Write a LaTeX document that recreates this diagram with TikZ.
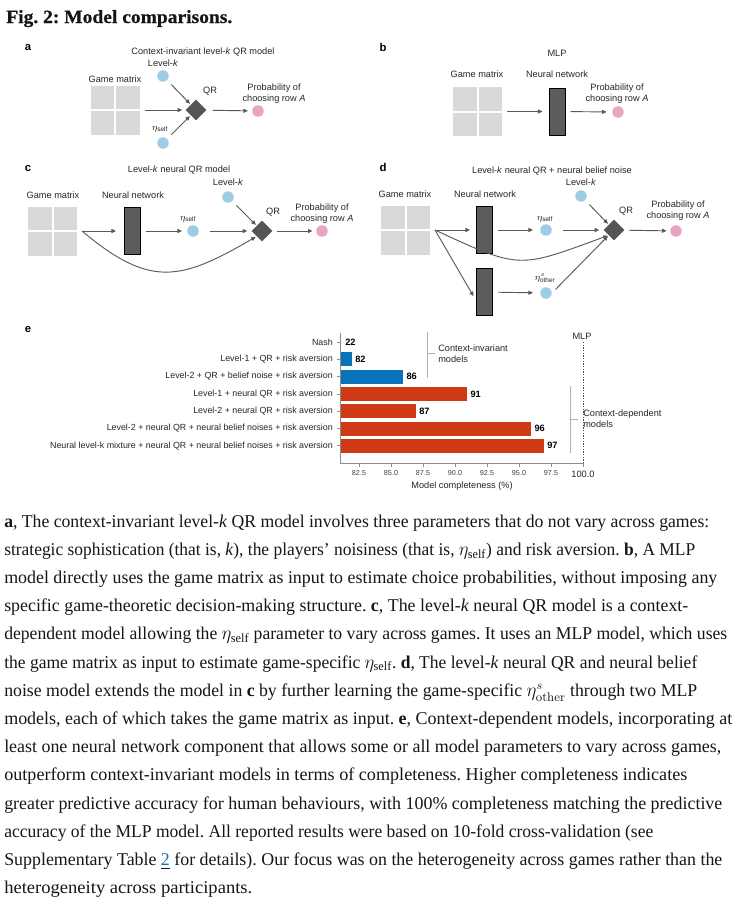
\documentclass[tikz,border=0pt]{standalone}
\usepackage{fontspec}
\usepackage{amsmath}
\setsansfont{Liberation Sans}
\newfontfamily\capfont{Liberation Serif}
\newfontfamily\titlefont{Liberation Serif Bold}[FakeBold=0.6]
\usetikzlibrary{arrows.meta,shapes.geometric}
\definecolor{gmfill}{HTML}{D9D9D9}
\definecolor{nnfill}{HTML}{5C5C5C}
\definecolor{diafill}{HTML}{555555}
\definecolor{cblue}{HTML}{9ECBE6}
\definecolor{cpink}{HTML}{E9A3C3}
\definecolor{arrgray}{HTML}{5A5A5A}
\definecolor{barblue}{HTML}{0A72BA}
\definecolor{barred}{HTML}{CF3A16}
\definecolor{axgray}{HTML}{8C8C8C}
\definecolor{brgray}{HTML}{B0B0B0}
\definecolor{linkblue}{HTML}{1F6FA8}
\definecolor{captext}{HTML}{161616}
\newcommand\dfont{\sffamily\fontsize{6.9pt}{8.25pt}\selectfont}
\newcommand\rfont{\sffamily\fontsize{6.65pt}{8pt}\selectfont}
\newcommand\capline[2]{\resizebox{#1}{\height}{#2}}
\frenchspacing
\tikzset{
  lbl/.style={font=\dfont, inner sep=0pt, text=black!85},
  rowlab/.style={font=\rfont, inner sep=0pt, text=black!85, anchor=east},
  vallab/.style={font=\sffamily\bfseries\fontsize{6.9pt}{8pt}\selectfont, inner sep=0pt, anchor=west},
  ticklab/.style={font=\sffamily\fontsize{5.4pt}{6pt}\selectfont, inner sep=0pt, text=black!75},
  plab/.style={font=\sffamily\bfseries\fontsize{8.5pt}{9pt}\selectfont, inner sep=0pt},
  gm/.style={rectangle, minimum width=36.75pt, minimum height=36.75pt, inner sep=0pt, fill=gmfill,
    path picture={\draw[white, line width=1.5pt] (path picture bounding box.north) -- (path picture bounding box.south)
      (path picture bounding box.west) -- (path picture bounding box.east);}},
  nn/.style={rectangle, minimum width=12pt, minimum height=35.25pt, inner sep=0pt, fill=nnfill, draw=black, line width=0.75pt},
  dia/.style={diamond, aspect=1, minimum size=15.75pt, inner sep=0pt, fill=diafill},
  bc/.style={circle, minimum size=8.6pt, inner sep=0pt, fill=cblue},
  pc/.style={circle, minimum size=8.6pt, inner sep=0pt, fill=cpink},
  arr/.style={draw=arrgray, line width=0.7pt, -{Triangle[length=3.4pt,width=3pt]}, shorten <=3.75pt, shorten >=3.75pt},
  captxt/.style={anchor=base west, inner sep=0pt, text=captext, font=\capfont\fontsize{13.5pt}{16pt}\selectfont},
}
\begin{document}
\begin{tikzpicture}[x=0.75pt,y=-0.75pt]
\fill[white] (0,0) rectangle (739,901);
\useasboundingbox (0,0) rectangle (739,901);

% title
\node[anchor=base west, inner sep=0pt, text=captext, font=\titlefont\fontsize{14pt}{16pt}\selectfont] (fig) at (6,23) {\capline{169.5pt}{Fig. 2: Model comparisons.}};

% ---------------- panel a
\node[plab] (pa) at (28,47) {a};
\node[lbl] (ta) at (203,52) {Context-invariant level-\textit{k} QR model};
\node[lbl] (lka) at (163,63) {Level-\textit{k}};
\node[bc] (ka) at (163,76) {};
\node[lbl] (gmla) at (115,79) {Game matrix};
\node[gm] (gma) at (115,110) {};
\node[dia] (qa) at (196,110) {};
\node[lbl] (qrla) at (210,91) {QR};
\node[bc] (ea) at (163,143) {};
\node[lbl] (ela) at (160,129) {$\eta_{\text{self}}$};
\node[pc] (pka) at (258,111) {};
\node[lbl, align=center] (pla) at (274,93.5) {Probability of\\choosing row \textit{A}};
\draw[arr, shorten >=2.25pt] (gma) -- (qa);
\draw[arr, shorten <=4.5pt, shorten >=0.75pt] (ka) -- (qa);
\draw[arr, shorten <=4.5pt, shorten >=0.75pt] (ea) -- (qa);
\draw[arr, shorten <=4.5pt, shorten >=3pt] (qa) -- (pka);

% ---------------- panel b
\node[plab] (pb) at (383,47) {b};
\node[lbl] (tb) at (557,53) {MLP};
\node[lbl] (gmlb) at (477,74) {Game matrix};
\node[lbl] (nnlb) at (557,74) {Neural network};
\node[gm] (gmb) at (477.5,111.5) {};
\node[nn] (nnb) at (557,111.5) {};
\node[pc] (pkb) at (618,112) {};
\node[lbl, align=center] (plb) at (617,94) {Probability of\\choosing row \textit{A}};
\draw[arr, shorten >=4.5pt] (gmb) -- (nnb);
\draw[arr, shorten >=4pt] (nnb) -- (pkb);

% ---------------- panel c
\node[plab] (pc0) at (28,168) {c};
\node[lbl] (tc) at (179,170) {Level-\textit{k} neural QR model};
\node[lbl] (lkc) at (228,182) {Level-\textit{k}};
\node[bc] (kc) at (228,197) {};
\node[lbl] (gmlc) at (53,195) {Game matrix};
\node[gm] (gmc) at (52.5,231) {};
\node[lbl] (nnlc) at (133,195) {Neural network};
\node[nn] (nnc) at (132.5,231) {};
\node[bc] (ec) at (193,231) {};
\node[lbl] (elc) at (188,219) {$\eta_{\text{self}}$};
\node[dia] (qc) at (262,231) {};
\node[lbl] (qrlc) at (273,212) {QR};
\node[pc] (pkc) at (322,231) {};
\node[lbl, align=center] (plc) at (322,214) {Probability of\\choosing row \textit{A}};
\coordinate (sc) at (82,231);
\draw[arr, shorten <=0pt, shorten >=6pt] (sc) -- (nnc);
\draw[arr] (nnc) -- (ec);
\draw[arr, shorten <=8.25pt, shorten >=3pt] (ec) -- (qc);
\draw[arr, shorten <=4.5pt, shorten >=0.75pt] (kc) -- (qc);
\draw[arr, shorten <=3pt, shorten >=2.6pt] (qc) -- (pkc);
\draw[arr, shorten <=0pt, shorten >=0.75pt] (sc) .. controls (150,288) and (180,281) .. (qc.south west);

% ---------------- panel d
\node[plab] (pd) at (383,167) {d};
\node[lbl] (td) at (552,171) {Level-\textit{k} neural QR + neural belief noise};
\node[lbl] (lkd) at (581,182) {Level-\textit{k}};
\node[bc] (kd) at (581,196) {};
\node[lbl] (gmld) at (405,194) {Game matrix};
\node[gm] (gmd) at (405.5,230) {};
\node[lbl] (nnld) at (485,194) {Neural network};
\node[nn] (nnd1) at (484.5,230) {};
\node[nn] (nnd2) at (484.5,292) {};
\coordinate (sd) at (435,230);
\node[bc] (ed1) at (546,230) {};
\node[lbl] (eld1) at (545,219) {$\eta_{\text{self}}$};
\node[dia] (qd) at (614,230) {};
\node[lbl] (qrld) at (626,211) {QR};
\node[pc] (pkd) at (676,231) {};
\node[lbl, align=center] (pld) at (678,211) {Probability of\\choosing row \textit{A}};
\node[bc] (ed2) at (546,293) {};
\node[lbl] (eld2) at (545,278) {$\eta^{s}_{\text{other}}$};
\draw[arr, shorten <=0pt, shorten >=4.5pt] (sd) -- (nnd1);
\draw[arr, shorten <=0pt, shorten >=3.75pt] (sd) -- (nnd2.225);
\draw[arr, shorten >=5.25pt] (nnd1) -- (ed1);
\draw[arr, shorten <=8.25pt, shorten >=3pt] (ed1) -- (qd);
\draw[arr, shorten <=4.5pt, shorten >=0.75pt] (kd) -- (qd);
\draw[arr, shorten <=3pt, shorten >=2.6pt] (qd) -- (pkd);
\draw[arr, shorten >=5.25pt] (nnd2) -- (ed2);
\draw[arr, shorten <=3.75pt, shorten >=0.75pt] (ed2.east) -- (qd.south west);
\draw[arr, shorten <=0pt, shorten >=0.75pt] (sd) .. controls (521.5,270.3) and (519.1,267.9) .. (qd.south west);

% ---------------- panel e
\node[plab] (pe) at (28,329) {e};
% bars
\foreach \i/\v/\c in {1/82/barblue, 2/86/barblue, 3/91/barred, 4/87/barred, 5/96/barred, 6/97/barred}{
  \pgfmathsetmacro\yy{342+17.3*\i}
  \pgfmathsetmacro\xx{391+(\v-85)*12.8}
  \fill[\c, draw=white, line width=0.6pt] (340,\yy-7.5) rectangle (\xx,\yy+7.5);
  \node[vallab] (vl\i) at (\xx+2.5,\yy) {\v};
}
\node[vallab] (vl0) at (345,342) {22};
% row labels and ticks
\foreach \i/\lab in {0/Nash, 1/Level-1 + QR + risk aversion, 2/Level-2 + QR + belief noise + risk aversion,
  3/Level-1 + neural QR + risk aversion, 4/Level-2 + neural QR + risk aversion,
  5/Level-2 + neural QR + neural belief noises + risk aversion,
  6/Neural level-k mixture + neural QR + neural belief noises + risk aversion}{
  \pgfmathsetmacro\yy{342+17.3*\i}
  \node[rowlab] (rl\i) at (333,\yy) {\lab};
  \draw[axgray, line width=0.6pt] (336.5,\yy) -- (340,\yy);
}
% axes
\draw[axgray, line width=0.75pt] (340,333) -- (340,463) -- (583,463);
\foreach \t in {82.5,85.0,87.5,90.0,92.5,95.0,97.5}{
  \pgfmathsetmacro\xx{391+(\t-85)*12.8}
  \draw[axgray, line width=0.6pt] (\xx,463) -- (\xx,466.5);
  \node[ticklab] at (\xx,473) {\t};
}
\draw[axgray, line width=0.6pt] (583,463) -- (583,466.5);
\node[lbl] (t100) at (583,474) {100.0};
\node[lbl] (xlab) at (462,486) {Model completeness (\%)};
% MLP line
\draw[black!70, line width=0.7pt, dash pattern=on 1pt off 1pt] (583,342) -- (583,463);
\node[lbl] (mlp) at (582,336) {MLP};
% brackets
\draw[brgray, line width=0.75pt] (427,332) -- (427,378) (427,353) -- (435,353);
\node[lbl, anchor=west, align=left] (ci) at (438,353.5) {Context-invariant\\models};
\draw[brgray, line width=0.75pt] (570,386) -- (570,453) (570,419) -- (578,419);
\node[lbl, anchor=west, align=left] (cd) at (583,419) {Context-dependent\\models};

% ---------------- caption
\node[captxt] (c1) at (4,527) {\capline{528.75pt}{\textbf{a}, The context-invariant level-\textit{k} QR model involves three parameters that do not vary across games:}};
\node[captxt] (c2) at (4,555.2) {\capline{518.25pt}{strategic sophistication (that is, \textit{k}), the players’ noisiness (that is, $\eta_{\text{self}}$) and risk aversion. \textbf{b}, A MLP}};
\node[captxt] (c3) at (4,583.4) {\capline{534.75pt}{model directly uses the game matrix as input to estimate choice probabilities, without imposing any}};
\node[captxt] (c4) at (4,611.6) {\capline{513pt}{specific game-theoretic decision-making structure. \textbf{c}, The level-\textit{k} neural QR model is a context-}};
\node[captxt] (c5) at (4,639.8) {\capline{542.25pt}{dependent model allowing the $\eta_{\text{self}}$ parameter to vary across games. It uses an MLP model, which uses}};
\node[captxt] (c6) at (4,668) {\capline{519.75pt}{the game matrix as input to estimate game-specific $\eta_{\text{self}}$. \textbf{d}, The level-\textit{k} neural QR and neural belief}};
\node[captxt] (c7) at (4,696.2) {\capline{519.75pt}{noise model extends the model in \textbf{c} by further learning the game-specific $\eta^{s}_{\mathrm{other}}$ through two MLP}};
\node[captxt] (c8) at (4,724.4) {\capline{546pt}{models, each of which takes the game matrix as input. \textbf{e}, Context-dependent models, incorporating at}};
\node[captxt] (c9) at (4,752.6) {\capline{537.75pt}{least one neural network component that allows some or all model parameters to vary across games,}};
\node[captxt] (c10) at (4,780.8) {\capline{512.25pt}{outperform context-invariant models in terms of completeness. Higher completeness indicates}};
\node[captxt] (c11) at (4,809) {\capline{538.5pt}{greater predictive accuracy for human behaviours, with 100\% completeness matching the predictive}};
\node[captxt] (c12) at (4,837.2) {\capline{486.75pt}{accuracy of the MLP model. All reported results were based on 10-fold cross-validation (see}};
\node[captxt] (c13) at (4,865.4) {\capline{538.5pt}{Supplementary Table \underline{\textcolor{linkblue}{2}} for details). Our focus was on the heterogeneity across games rather than the}};
\node[captxt] (c14) at (4,893.6) {\capline{186pt}{heterogeneity across participants.}};
\end{tikzpicture}
\end{document}
